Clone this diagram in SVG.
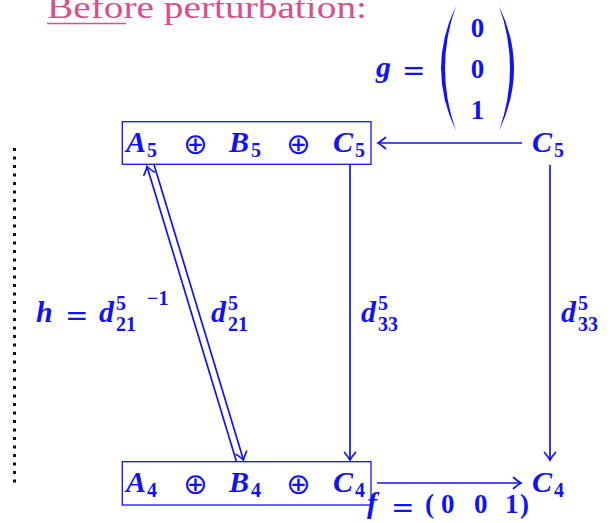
<svg xmlns="http://www.w3.org/2000/svg" width="616" height="523" viewBox="0 0 616 523">
<style>
.m{font-family:"Liberation Serif",serif;font-weight:bold;font-style:italic;font-size:30px;fill:#1212f2}
.n{font-family:"Liberation Serif",serif;font-weight:bold;font-size:20px;fill:#1212f2}
.d{font-family:"Liberation Serif",serif;font-weight:bold;font-size:27px;fill:#1212f2}
.o{font-family:"DejaVu Sans",sans-serif;font-size:29px;fill:#1212f2;text-anchor:middle}
.eq{font-family:"DejaVu Sans",sans-serif;font-size:28px;fill:#1212f2}
.box{fill:none;stroke:#1212f2;stroke-width:1.3}
.ln{fill:none;stroke:#1212f2;stroke-width:1.7}
</style>
<defs>
<marker id="ah" markerUnits="userSpaceOnUse" markerWidth="16" markerHeight="16" viewBox="-9 -8 11 16" refX="0" refY="0" orient="auto">
<path d="M -7.5 -5.5 Q -2 -1 0 0 Q -2 1 -7.5 5.5" fill="none" stroke="#1212f2" stroke-width="1.7" stroke-linecap="round"/>
</marker>
</defs>
<rect width="616" height="523" fill="#ffffff"/>
<g id="title">
<text x="47" y="18" font-family="Liberation Serif, serif" font-size="31" fill="#d6508a" textLength="320" lengthAdjust="spacingAndGlyphs">Before perturbation:</text>
<line x1="47" y1="23.5" x2="126" y2="23.5" stroke="#d6508a" stroke-width="1.5"/>
</g>
<g id="dotted">
<line x1="14.5" y1="148" x2="14.5" y2="484" stroke="#111" stroke-width="3" stroke-dasharray="3 5.5"/>
</g>
<g id="top-box">
<rect class="box" x="122.3" y="121.7" width="248.7" height="42.6"/>
<text class="m" x="126" y="152">A</text><text class="n" x="147" y="157">5</text>
<text class="o" x="195.5" y="154">⊕</text>
<text class="m" x="229" y="152">B</text><text class="n" x="251" y="157">5</text>
<text class="o" x="298.5" y="154">⊕</text>
<text class="m" x="333" y="152">C</text><text class="n" x="355" y="157">5</text>
</g>
<g id="bottom-box">
<rect class="box" x="122.3" y="461.7" width="248.7" height="43.3"/>
<text class="m" x="126" y="492">A</text><text class="n" x="147" y="497">4</text>
<text class="o" x="195.5" y="494">⊕</text>
<text class="m" x="229" y="492">B</text><text class="n" x="251" y="497">4</text>
<text class="o" x="298.5" y="494">⊕</text>
<text class="m" x="333" y="492">C</text><text class="n" x="355" y="497">4</text>
</g>
<g id="C5-right">
<text class="m" x="532" y="152">C</text><text class="n" x="554" y="157">5</text>
</g>
<g id="C4-right">
<text class="m" x="532" y="492">C</text><text class="n" x="554" y="497">4</text>
</g>
<g id="connectors">
<line class="ln" x1="522" y1="143" x2="378" y2="143" marker-end="url(#ah)"/>
<line class="ln" x1="377" y1="483" x2="521" y2="483" marker-end="url(#ah)"/>
<line class="ln" x1="350" y1="164.3" x2="350" y2="460" marker-end="url(#ah)"/>
<line class="ln" x1="550" y1="165" x2="550" y2="460" marker-end="url(#ah)"/>
<line class="ln" x1="236.5" y1="461.7" x2="147" y2="166.5" marker-end="url(#ah)"/>
<line class="ln" x1="154" y1="164.5" x2="243.5" y2="460" marker-end="url(#ah)"/>
</g>
<g id="label-g">
<text class="m" x="376" y="77">g</text>
<text class="eq" x="402" y="80">=</text>
<path d="M 456 6 Q 426 68 456 131 Q 434 68 456 6 Z" fill="#1212f2"/>
<path d="M 499 6 Q 529 68 499 131 Q 521 68 499 6 Z" fill="#1212f2"/>
<text class="d" x="477.5" y="37" text-anchor="middle">0</text>
<text class="d" x="477.5" y="78" text-anchor="middle">0</text>
<text class="d" x="477.5" y="119" text-anchor="middle">1</text>
</g>
<g id="label-f">
<text class="m" x="367" y="513">f</text>
<text class="eq" x="391" y="517">=</text>
<text class="d" x="425" y="513">(</text>
<text class="d" x="441" y="513">0</text>
<text class="d" x="474" y="513">0</text>
<text class="d" x="505" y="513">1</text>
<text class="d" x="520" y="513">)</text>
</g>
<g id="label-h">
<text class="m" x="36" y="322">h</text>
<text class="eq" x="65" y="325">=</text>
<text class="m" x="99" y="322">d</text>
<text class="n" x="116" y="310">5</text>
<text class="n" x="116" y="331">21</text>
<text class="n" x="147" y="305" font-size="23">−1</text>
</g>
<g id="label-d21">
<text class="m" x="211" y="322">d</text>
<text class="n" x="228" y="310">5</text>
<text class="n" x="228" y="331">21</text>
</g>
<g id="label-d33-left">
<text class="m" x="361" y="322">d</text>
<text class="n" x="378" y="310">5</text>
<text class="n" x="378" y="331">33</text>
</g>
<g id="label-d33-right">
<text class="m" x="561" y="322">d</text>
<text class="n" x="578" y="310">5</text>
<text class="n" x="578" y="331">33</text>
</g>
</svg>
